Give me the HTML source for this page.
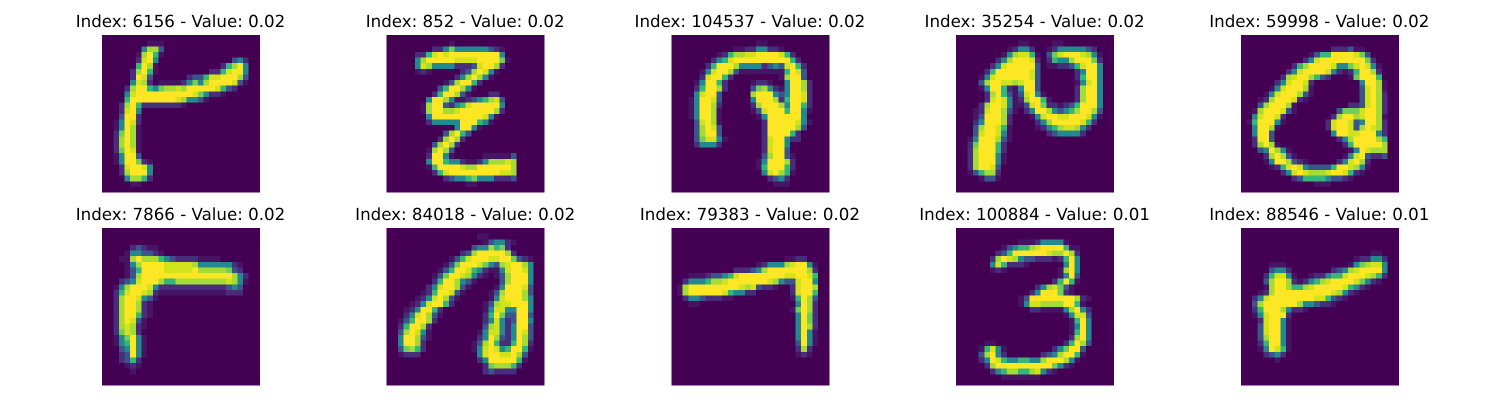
<!DOCTYPE html>
<html lang="en">
<head>
<meta charset="utf-8">
<title>Image grid</title>
<style>
html,body{margin:0;padding:0;background:#fff;width:1500px;height:400px;overflow:hidden}
svg{display:block}
text{font-family:"DejaVu Sans","Liberation Sans",sans-serif;font-size:16.67px;fill:#000;text-anchor:middle;text-rendering:geometricPrecision}
</style>
</head>
<body>
<svg id="chart" width="1500" height="400" viewBox="0 0 1500 400" xmlns="http://www.w3.org/2000/svg"></svg>
<script>
const sampleIndices = [6156, 852, 104537, 35254, 59998, 7866, 84018, 79383, 100884, 88546];
const sampleValues = ["0.02", "0.02", "0.02", "0.02", "0.02", "0.02", "0.02", "0.02", "0.01", "0.01"];
// Each row lists "column:intensities" runs (intensity digits 0-9); omitted cells are 0.
const pixels6156 = ["","8:111","7:4773","6:17951","6:2894 23:342","6:5971 21:25794","5:27951 19:2258994","5:2983 15:23358899973","5:4872 10:1111 14:246479999831","4:27995467787999998532","4:489999999999864221","4:599999999874431","3:279522222221","3:2894","3:3992","2:14982","2:14971","2:26971","2:27971","2:27971","2:26981","2:14993","2:1499621","3:289984","3:279994","4:47752","5:11",""];
const pixels852 = ["","11:1","8:2246444444321","5:2258989999999994","5:47999998888999961","5:4874444222389972","5:121 13:2379841","12:2479741","10:1379952","9:3599741","8:2599731 18:22","7:49974112345783","6:179932458999994","6:179977899999972","7:4999999999841","7:244444999541","12:49941","10:37953","9:27972","8:37972","7:17973","7:29941 17:111113","7:4995442112477787","7:1599998779999997","8:258999999999887","10:2344564442223","14:11",""];
const pixels104537 = ["","15:11","11:112244221","8:12577889999852","7:2458999999999952","6:259997444423438952","5:14899731 13:11111115983","5:289952 19:17993","4:149952 14:1221 20:49972","4:259972 14:36742149972","4:48993 14:79994349982","3:149983 14:49997259982","3:149972 14:27999749952","3:149971 14:13899959941","3:149971 15:149999994","4:38971 16:299999841","4:37983 16:29999973","4:37993 16:2999952","4:368841 16:2899422","4:24442 16:28994","16:28993","16:379931","15:1499972","15:1599952","16:489751","17:2342","18:111",""];
const pixels35254 = ["","11:11 17:11","9:12442 16:124444432","8:1478851 16:3689998741","7:24799982 16:2544799962","6:248999993 16:1122358994","5:2599999983 21:24994","4:14899999983 21:25994","4:37998878993 21:14894","4:14995214993 21:27994","5:27953138941 21:27994","5:289841279951 21:27994","4:2799841138962212359994","3:12899731 12:24997434579973","3:1399972 13:1489988999841","3:2499972 14:24799999852","3:3799851 14:1245788742","3:3899841 16:2344442","2:14999731","2:2699952","2:2799952","2:2799941","2:2799941","2:279983","2:135772","4:1331","",""];
const pixels59998 = ["","","16:222311","12:13559999863","11:2489999999962","9:2579999844689841","8:24899998421259972","7:278997532 19:169995","6:2489982 21:49971","5:14899971 21:38971","4:148999731 21:38972","3:127999821 21:38972","3:3799971 19:2238972","2:17999831 17:366689972","2:489982 16:2799789971","1:1599941 15:28998349972","2:49971 15:28998379872","2:4993 16:4998899942","2:2993 17:247999975","2:27971 18:25999997","3:349741 19:1498777","4:279731 18:14893223","4:14997321 17:248972","5:125898433335998741","7:248987778998521","9:23555543321","13:111",""];
const pixels7866 = ["","","","5:23211","4:1443321","3:117977754322221111","4:147999988888744444421","4:135999988888977777632","4:1379999999999999999742","3:23489997557777777778741","2:14799984222222222222343","2:25899872111111111111222","2:27998431","2:2799721","2:2799721","2:2799521","2:279831","2:278721","2:26872","2:146941","2:145941","3:34941","3:23941","3:2352","4:121","5:1","",""];
const pixels84018 = ["","16:11","17:134421","15:3447562","13:2379999972","11:135899988996321","10:1369998643789974","9:13599854211489984","8:1369987421 19:1379994","8:25997431 20:379994","7:24899731 19:1499983","6:12599831 18:13799973","5:12489731 18:14899974","4:12489952 17:137889994","3:1249952 17:148844994","3:2489731 17:259633993","2:1359972 17:248423994","2:259972 17:378424993","2:379841 16:1488424983","2:499731 16:2497324973","2:49972 15:13795225972","2:36752 15:14898459951","2:1222 16:489988973","16:249999951","17:2677752","17:232222","",""];
const pixels79383 = ["","","","","","20:1122","15:12444789941","11:222347999999972","3:11123345899999999889985","2:244457789999999874338994","1:179999999998783221 21:28997","1:17999999854422 21:28995","2:244322211 21:15973","3:11 22:4972","21:16972","22:4962","22:4962","22:4972","22:4941","22:4941","22:3941","22:272","22:121","","","","",""];
const pixels100884 = ["","","11:111244441","8:13455789999511","7:235999999877972","6:2798743322212594","6:4852221 19:494","6:121 18:1794","18:1493","17:25951","14:2478631","13:24999621","11:1399999999721","11:148877779951","13:22111147942","19:14883","20:1594","20:1494","20:1594","20:2794","5:11 19:25973","4:15841 17:246993","4:37942 15:23479951","4:249854455447999741","5:2799999999996421","6:245775578421","8:1111111",""];
const pixels88546 = ["","","","","23:11","20:122442","5:111 19:1467884","5:3442 16:2347899994","4:258841 12:12245589998752","4:379972124578999986421","4:1799755789999985421","3:127999999999987421","2:24899999999885321","2:379999997443221","2:2599974221","2:1489992","3:289941","3:389941","3:389941","3:379941","3:259941","3:149851","4:2342","6:1","","","",""];
const panelPixels = [pixels6156, pixels852, pixels104537, pixels35254, pixels59998, pixels7866, pixels84018, pixels79383, pixels100884, pixels88546];
const intensityColors = ["#440154","#471365","#472d7b","#39558c","#23898e","#35b779","#6ece58","#a5db36","#d2e21b","#fde725"];

const svgNS = "http://www.w3.org/2000/svg";
const chart = document.getElementById("chart");
const gridSize = 28;
const panelSize = 158;
function panelLeft(i){ return 102 + 284.7 * (i % 5); }
function panelTop(i){ return 35 + 193 * Math.floor(i / 5); }
function xAxis(i, col){ return panelLeft(i) + col * panelSize / gridSize; }
function yAxis(i, row){ return panelTop(i) + row * (panelSize - 0.5) / gridSize; }

panelPixels.forEach(function(rows, i){
  const group = document.createElementNS(svgNS, "g");
  
  
  const title = document.createElementNS(svgNS, "text");
  
  
  title.setAttribute("x", xAxis(i, gridSize / 2) - 0.5);
  title.setAttribute("y", yAxis(i, 0) - 8);
  title.textContent = "Index: " + sampleIndices[i] + " - Value: " + sampleValues[i];
  group.appendChild(title);
  const bg = document.createElementNS(svgNS, "rect");
  
  
  bg.setAttribute("x", xAxis(i, 0));
  bg.setAttribute("y", yAxis(i, 0));
  bg.setAttribute("width", xAxis(i, gridSize) - xAxis(i, 0));
  bg.setAttribute("height", yAxis(i, gridSize) - yAxis(i, 0));
  bg.setAttribute("fill", intensityColors[0]);
  bg.setAttribute("shape-rendering", "crispEdges");
  group.appendChild(bg);
  rows.forEach(function(rowText, r){
    if (!rowText) return;
    rowText.split(" ").forEach(function(run){
      const parts = run.split(":");
      const start = parseInt(parts[0], 10);
      const digits = parts[1] || "";
      for (let k = 0; k < digits.length; k++) {
        const level = parseInt(digits[k], 10);
        if (!level || start + k >= gridSize) continue;
        const cell = document.createElementNS(svgNS, "rect");
        
        
        cell.setAttribute("x", xAxis(i, start + k));
        cell.setAttribute("y", yAxis(i, r));
        cell.setAttribute("width", xAxis(i, start + k + 1) - xAxis(i, start + k));
        cell.setAttribute("height", yAxis(i, r + 1) - yAxis(i, r));
        cell.setAttribute("fill", intensityColors[level]);
        cell.setAttribute("shape-rendering", "crispEdges");
        group.appendChild(cell);
      }
    });
  });
  chart.appendChild(group);
});
</script>
</body>
</html>
